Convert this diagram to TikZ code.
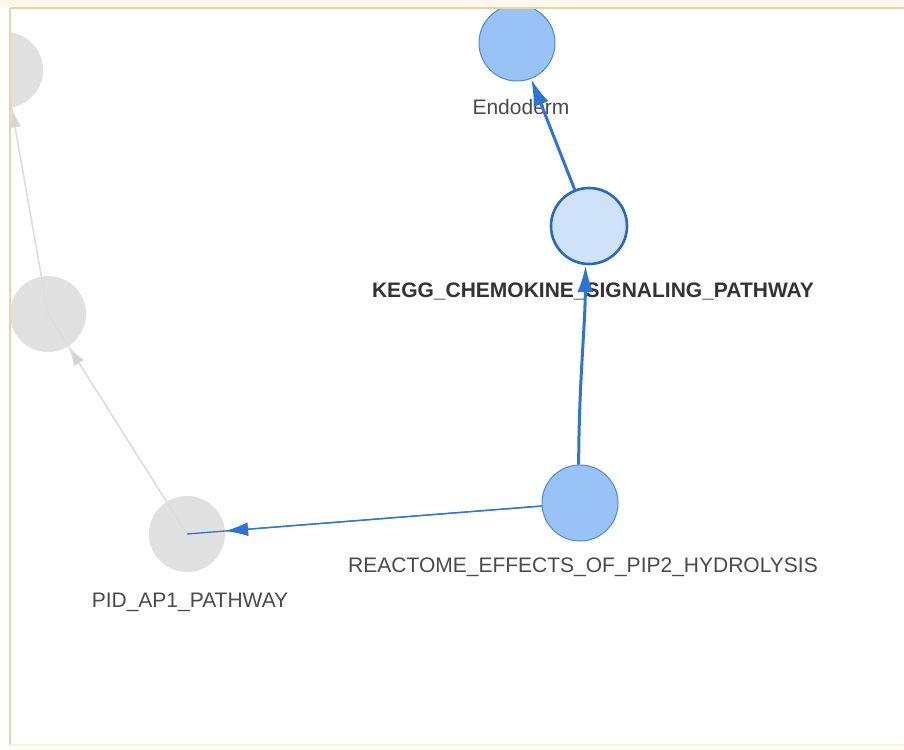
\documentclass[tikz,border=0pt]{standalone}
\usepackage{fontspec}
\setmainfont{Liberation Sans}
\usetikzlibrary{arrows.meta}
\definecolor{framec}{HTML}{E6D5A6}
\definecolor{framefaint}{HTML}{FAF1D6}
\definecolor{nodeblue}{HTML}{99C2F6}
\definecolor{nodelight}{HTML}{CFE2FA}
\definecolor{strokeblue}{HTML}{5089D4}
\definecolor{edgeblue}{HTML}{2F74D2}
\definecolor{graynode}{HTML}{E0E0E0}
\definecolor{grayedge}{HTML}{DCDCDC}
\definecolor{grayhead}{HTML}{D4D4D4}
\definecolor{labelc}{HTML}{4A4A4A}
\definecolor{labelbold}{HTML}{333333}
\tikzset{
  vnode/.style={circle, minimum size=76pt, inner sep=0pt},
  bluenode/.style={vnode, fill=nodeblue, draw=strokeblue, line width=1pt},
  selnode/.style={vnode, fill=nodelight, draw=edgeblue!90!black, line width=2.6pt},
  greynode/.style={vnode, fill=graynode},
  thickedge/.style={draw=edgeblue, line width=3pt, -{Latex[length=27pt,width=16pt]}},
  thinedge/.style={draw=edgeblue, line width=1.3pt},
  thinarrow/.style={thinedge, -{Latex[length=23pt,width=14pt]}},
  greyedge/.style={draw=grayedge, line width=1.2pt},
  greyarrow/.style={greyedge, -{Latex[length=20pt,width=12pt, fill=grayhead]}},
  lbl/.style={anchor=base, inner sep=0pt, text=labelc, font=\fontsize{21}{25}\selectfont},
  lblb/.style={anchor=base, inner sep=0pt, text=labelbold, font=\fontsize{21}{25}\selectfont\bfseries},
}
\begin{document}
\begin{tikzpicture}[x=1pt,y=-1pt]
\useasboundingbox (0,0) rectangle (904,749);
\fill[white] (0,0) rectangle (904,749);
\fill[framefaint!50] (0,0) rectangle (904,7);
\begin{scope}
\clip (10,8) rectangle (904,745);
\node[greynode] (g1) at (5,70) {};
\node[greynode] (g2) at (48,314) {};
\node[greynode] (pid) at (187,534) {};
\node[bluenode] (endo) at (517,43) {};
\node[selnode] (kegg) at (589,226) {};
\node[bluenode] (reac) at (580,503) {};

\node[lbl] (tendo) at (521,114) {Endoderm};
\node[lblb] (tkegg) at (593,297) {KEGG\_CHEMOKINE\_SIGNALING\_PATHWAY};
\node[lbl] (treac) at (583,572) {REACTOME\_EFFECTS\_OF\_PIP2\_HYDROLYSIS};
\node[lbl] (tpid) at (190,607) {PID\_AP1\_PATHWAY};

% grey edges
\draw[greyedge] (pid.center) -- (g2.center);
\draw[greyarrow] (pid) -- (g2);
\draw[greyedge] (g2.center) -- (g1.center);
\draw[greyarrow] (g2) -- (g1);

% blue edges
\draw[thinedge] (reac) -- (pid.center);
\draw[thinarrow] (reac) -- (pid);
\draw[thickedge] (reac.92) .. controls (579,380) and (585,330) .. (kegg.265);
\draw[thickedge] (kegg) -- (endo);
\end{scope}
% frame
\draw[framec, line width=2pt] (10,8) -- (904,8);
\draw[framec, line width=2.5pt] (10,8) -- (10,745);
\draw[framefaint, line width=2pt] (10,745) -- (904,745);
\end{tikzpicture}
\end{document}
